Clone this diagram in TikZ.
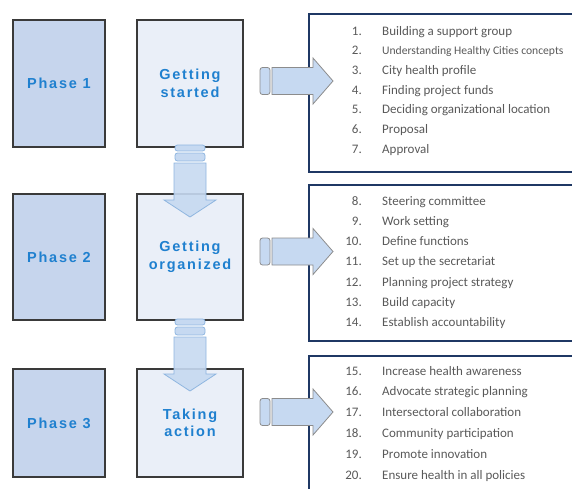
\documentclass[tikz,border=0pt]{standalone}
\usepackage{fontspec}
\setmainfont{Carlito}
\newfontfamily\phasefont[LetterSpace=12]{Liberation Sans}
\usetikzlibrary{positioning}
\definecolor{phasefill}{HTML}{C6D5ED}
\definecolor{stagefill}{HTML}{EAEFF8}
\definecolor{boxline}{HTML}{3A3A3A}
\definecolor{listline}{HTML}{1F3864}
\definecolor{labelblue}{HTML}{1F80CF}
\definecolor{itemgray}{HTML}{595959}
\definecolor{arrowfill}{HTML}{C6D9F1}
\definecolor{arrowedge}{HTML}{8FB6E0}
\definecolor{grayedge}{HTML}{8C8C8C}
\begin{document}
\begin{tikzpicture}[x=1pt,y=-1pt,
    phasebox/.style={draw=boxline, line width=1.3pt, fill=phasefill,
      minimum width=92pt, inner sep=0pt, align=center, text=labelblue,
      font=\phasefont\bfseries\fontsize{14.5}{17.5}\selectfont},
    stagebox/.style={phasebox, fill=stagefill, minimum width=106pt},
    listbox/.style={draw=listline, line width=1.5pt, anchor=north west,
      minimum width=280pt, inner sep=0pt},
    item/.style={anchor=west, text=itemgray, inner sep=0pt,
      font=\fontsize{13}{15}\selectfont, text height=8.5pt, text depth=2.5pt},
    num/.style={item, anchor=east},
    downpill/.style={draw=arrowedge, fill=arrowfill, rounded corners=2.5pt, line width=0.8pt},
    downarrow/.style={draw=arrowedge, fill=arrowfill, fill opacity=0.9, line width=0.8pt},
    rightpill/.style={draw=grayedge, fill=arrowfill, rounded corners=2.5pt, line width=0.8pt},
    rightarrow/.style={draw=grayedge, fill=arrowfill, line width=0.8pt}]
  \useasboundingbox (0,0) rectangle (572,488);
  \clip (0,0) rectangle (572,488);

  % item lists on the right
  \node[listbox, minimum height=158pt] (list1) at (308,13) {};
  \node[listbox, minimum height=156pt] (list2) at (308,184) {};
  \node[listbox, minimum height=145pt] (list3) at (308,355) {};

  % phases and stages
  \node[phasebox, minimum height=127pt] (phase1) at (59,83.5) {Phase 1};
  \node[phasebox, minimum height=126pt] (phase2) at (59,257) {Phase 2};
  \node[phasebox, minimum height=108pt] (phase3) at (59,423) {Phase 3};
  \node[stagebox, minimum height=127pt] (stage1) at (190,83.5) {Getting\\started};
  \node[stagebox, minimum height=126pt] (stage2) at (190,257) {Getting\\organized};
  \node[stagebox, minimum height=108pt] (stage3) at (190,423) {Taking\\action};

  \foreach \t [count=\i from 0] in {Building a support group,
      {\fontsize{11.6}{13}\selectfont Understanding Healthy Cities concepts},
      City health profile, Finding project funds,
      Deciding organizational location, Proposal, Approval} {
    \pgfmathtruncatemacro{\n}{\i+1}
    \node[num] (num\n) at (362,32+\i*19.7) {\n.};
    \node[item] (item\n) at (382,32+\i*19.7) {\t};
  }
  \foreach \t [count=\i from 0] in {Steering committee, Work setting,
      Define functions, Set up the secretariat, Planning project strategy,
      Build capacity, Establish accountability} {
    \pgfmathtruncatemacro{\n}{\i+8}
    \node[num] (num\n) at (362,202+\i*20.3) {\n.};
    \node[item] (item\n) at (382,202+\i*20.3) {\t};
  }
  \foreach \t [count=\i from 0] in {Increase health awareness,
      Advocate strategic planning, Intersectoral collaboration,
      Community participation, Promote innovation,
      Ensure health in all policies} {
    \pgfmathtruncatemacro{\n}{\i+15}
    \node[num] (num\n) at (362,372+\i*20.8) {\n.};
    \node[item] (item\n) at (382,372+\i*20.8) {\t};
  }

  % arrows down between stages
  \foreach \ty in {145,319} {
    \draw[downpill] (175,\ty) rectangle (205,\ty+6);
    \draw[downpill] (175,\ty+8) rectangle (205,\ty+16);
    \draw[downarrow] (174,\ty+18) -- (206,\ty+18) -- (206,\ty+55)
      -- (216,\ty+55) -- (190,\ty+72) -- (164,\ty+55) -- (174,\ty+55) -- cycle;
  }
  % arrows right to the lists
  \foreach \cy in {81,251.5,412} {
    \draw[rightpill] (260,\cy-13.5) rectangle (270,\cy+13.5);
    \draw[rightarrow] (272,\cy-13.5) -- (313,\cy-13.5) -- (313,\cy-23)
      -- (333,\cy) -- (313,\cy+23) -- (313,\cy+13.5) -- (272,\cy+13.5) -- cycle;
  }
\end{tikzpicture}
\end{document}
